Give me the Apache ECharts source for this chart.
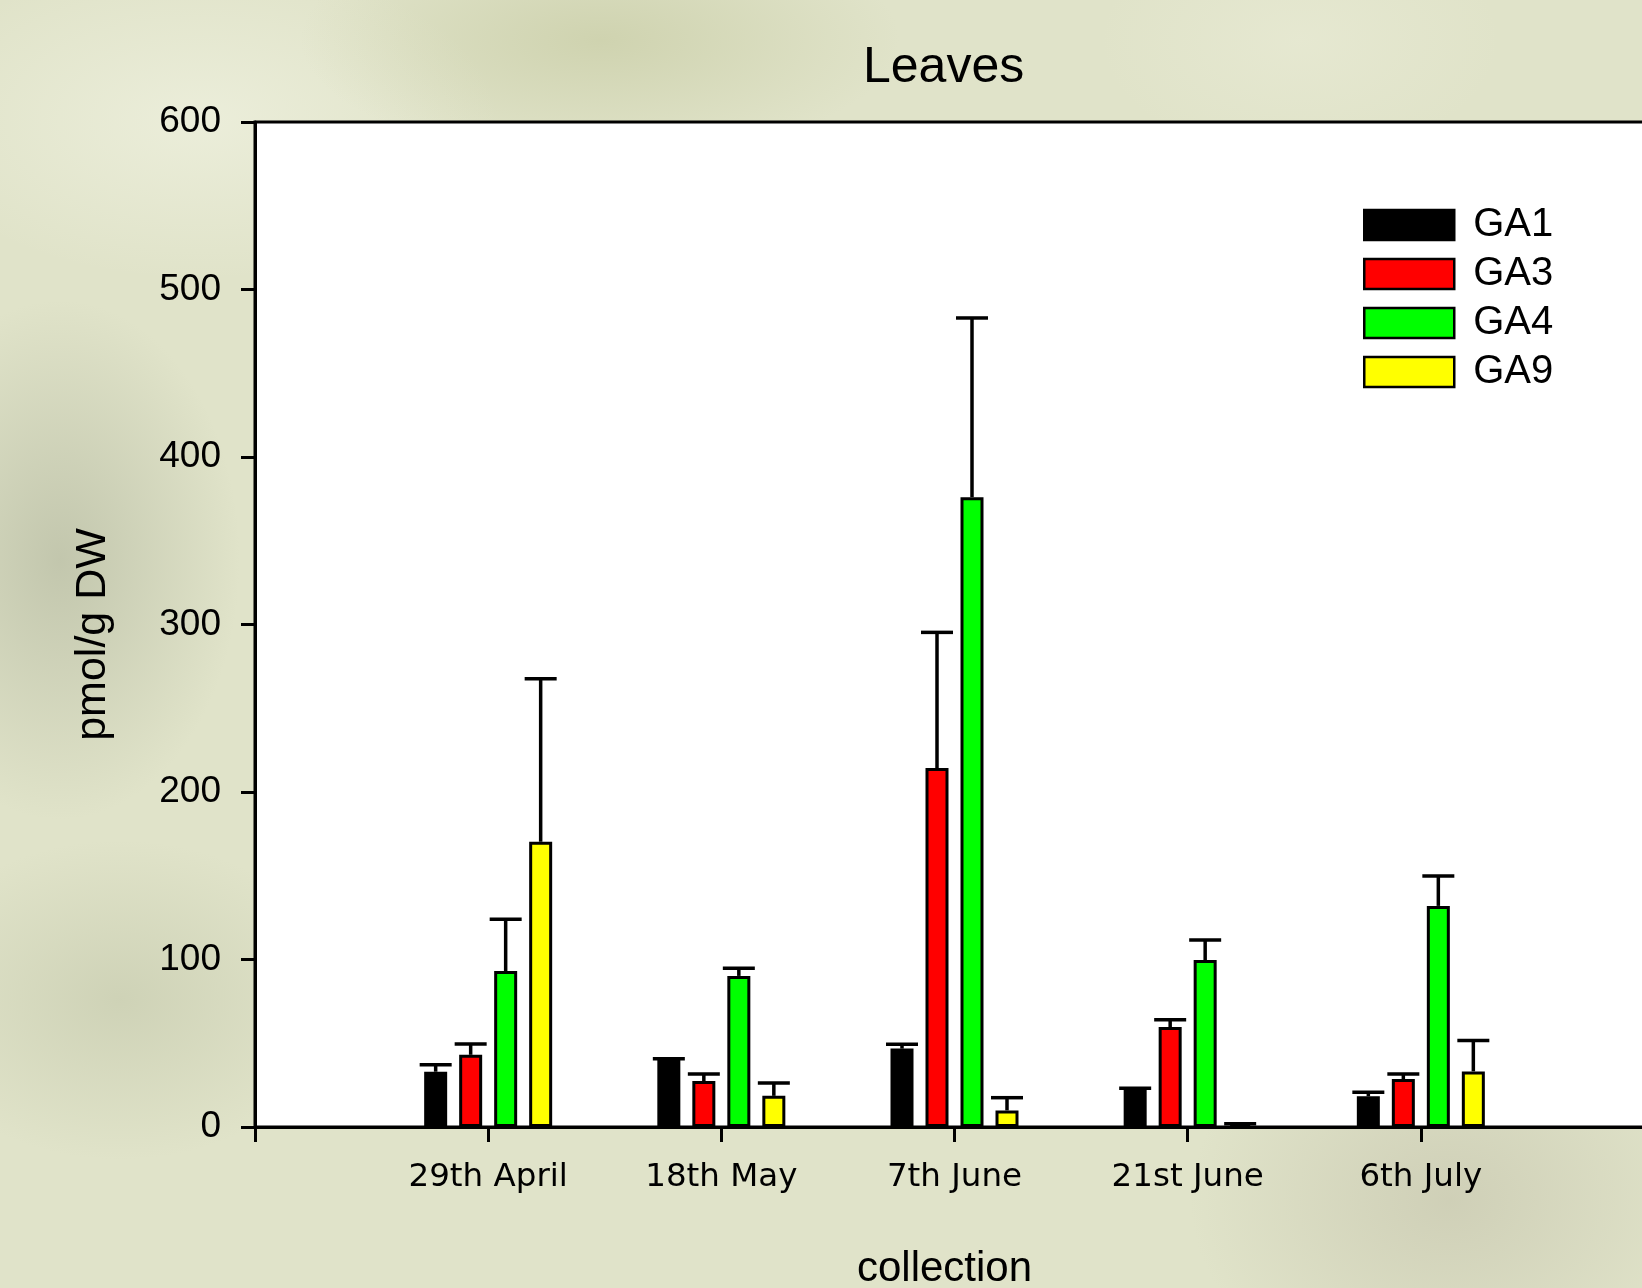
<!DOCTYPE html>
<html>
<head>
<meta charset="utf-8">
<title>Leaves</title>
<script src="https://cdn.jsdelivr.net/npm/echarts@6/dist/echarts.min.js"></script>
<style>
    html, body {
        margin: 0;
        padding: 0;
    }
    body {
        width: 1642px;
        height: 1288px;
        overflow: hidden;
        background-color: #e0e3c9;
        background-image:
            radial-gradient(ellipse 180px 260px at 60px 560px, rgba(170,175,150,0.55), rgba(170,175,150,0) 100%),
            radial-gradient(ellipse 220px 160px at 120px 1000px, rgba(185,190,160,0.45), rgba(185,190,160,0) 100%),
            radial-gradient(ellipse 300px 120px at 600px 40px, rgba(190,195,150,0.5), rgba(190,195,150,0) 100%),
            radial-gradient(ellipse 260px 200px at 1450px 1200px, rgba(190,188,165,0.5), rgba(190,188,165,0) 100%),
            radial-gradient(ellipse 300px 160px at 200px 120px, rgba(240,242,225,0.7), rgba(240,242,225,0) 100%),
            radial-gradient(ellipse 200px 120px at 1300px 40px, rgba(232,234,212,0.7), rgba(232,234,212,0) 100%);
    }
    /* 图表比窗口宽一点，让右边框落在画面外 */
    #chart {
        width: 1664px;
        height: 1288px;
    }
</style>
</head>
<body>
<div id="chart"></div>
<script>
// 数据
var categories = ['29th April', '18th May', '7th June', '21st June', '6th July'];
var seriesNames = ['GA1', 'GA3', 'GA4', 'GA9'];
var seriesColors = ['#000000', '#ff0000', '#00ff00', '#ffff00'];
var ga1 = [33, 40.3, 46.8, 22.8, 18.3];
var ga3 = [43.1, 27.4, 214.3, 59.7, 28.6];
var ga4 = [93.1, 90.2, 376, 99.7, 132];
var ga9 = [170.3, 18.6, 9.9, 1.7, 33.2];
var ga1Err = [4.2, 0.4, 2.6, 0.3, 2.4];
var ga3Err = [6.5, 4.2, 81, 4.4, 3];
var ga4Err = [31, 4.6, 107, 12, 17.8];
var ga9Err = [97.3, 7.7, 7.6, 0.2, 18.5];
var yTicks = [0, 100, 200, 300, 400, 500, 600];

var values = [ga1, ga3, ga4, ga9];
var errors = [ga1Err, ga3Err, ga4Err, ga9Err];

var BAR_W = 23;
var BAR_GAP = 12;
var CAP_W = 32;

// x轴两端各留一个空位
var xData = [''].concat(categories).concat(['']);

var myChart = echarts.init(document.getElementById('chart'));

var series = [];
values.forEach(function (vals, s) {
    series.push({
        name: seriesNames[s],
        type: 'bar',
        barWidth: BAR_W,
        barGap: (BAR_GAP / BAR_W * 100) + '%',
        itemStyle: {
            color: seriesColors[s],
            borderColor: '#000',
            borderWidth: 3
        },
        data: vals.map(function (v, i) { return [i + 1, v]; })
    });
});

// 误差线
values.forEach(function (vals, s) {
    var offset = (s - 1.5) * (BAR_W + BAR_GAP);
    series.push({
        name: seriesNames[s] + ' err',
        type: 'custom',
        z: 5,
        silent: true,
        renderItem: function (params, api) {
            var base = api.coord([api.value(0), api.value(1)]);
            var top = api.coord([api.value(0), api.value(1) + api.value(2)]);
            var cx = base[0] + offset;
            var style = { stroke: '#000', lineWidth: 3.5 };
            return {
                type: 'group',
                children: [
                    { type: 'line', shape: { x1: cx, y1: base[1], x2: cx, y2: top[1] }, style: style },
                    { type: 'line', shape: { x1: cx - CAP_W / 2, y1: top[1], x2: cx + CAP_W / 2, y2: top[1] }, style: style }
                ]
            };
        },
        data: vals.map(function (v, i) { return [i + 1, v, errors[s][i]]; })
    });
});

var option = {
    animation: false,
    backgroundColor: 'transparent',
    title: {
        text: 'Leaves',
        left: 863,
        top: 43,
        padding: 0,
        textStyle: {
            fontFamily: 'Liberation Sans',
            fontWeight: 'normal',
            fontSize: 50,
            color: '#000'
        }
    },
    legend: {
        data: seriesNames,
        orient: 'vertical',
        left: 1363,
        top: 205,
        padding: 0,
        itemWidth: 90,
        itemHeight: 30,
        itemGap: 9,
        icon: 'rect',
        itemStyle: { borderColor: '#000', borderWidth: 2.5 },
        textStyle: {
            fontFamily: 'Liberation Sans',
            fontSize: 40,
            color: '#000',
            padding: [0, 0, 0, 14]
        }
    },
    grid: {
        left: 255,
        top: 122,
        right: 10,
        bottom: 161,
        outerBoundsMode: 'none',
        show: true,
        backgroundColor: '#ffffff',
        borderColor: '#000',
        borderWidth: 3
    },
    xAxis: {
        type: 'category',
        data: xData,
        boundaryGap: false,
        name: 'collection',
        nameLocation: 'middle',
        nameGap: 121,
        nameTextStyle: {
            fontFamily: 'Liberation Sans',
            fontSize: 42,
            color: '#000',
            padding: [0, 20, 0, 0]
        },
        axisLine: { lineStyle: { color: '#000', width: 3 } },
        axisTick: { show: true, interval: 0, length: 15, lineStyle: { color: '#000', width: 3 } },
        axisLabel: {
            interval: 0,
            margin: 34,
            fontFamily: 'DejaVu Sans',
            fontSize: 32.5,
            color: '#000'
        },
        splitLine: { show: false }
    },
    yAxis: {
        type: 'value',
        min: yTicks[0],
        max: yTicks[yTicks.length - 1],
        interval: 100,
        name: 'pmol/g DW',
        nameLocation: 'middle',
        nameRotate: 90,
        nameGap: 140,
        nameTextStyle: {
            fontFamily: 'Liberation Sans',
            fontSize: 43,
            color: '#000',
            padding: [0, 20, 0, 0]
        },
        axisLine: { show: true, lineStyle: { color: '#000', width: 3 } },
        axisTick: { show: true, length: 14, lineStyle: { color: '#000', width: 3 } },
        axisLabel: {
            margin: 34,
            fontFamily: 'Liberation Sans',
            fontSize: 37,
            color: '#000'
        },
        splitLine: { show: false }
    },
    series: series
};

myChart.setOption(option);
</script>
</body>
</html>
